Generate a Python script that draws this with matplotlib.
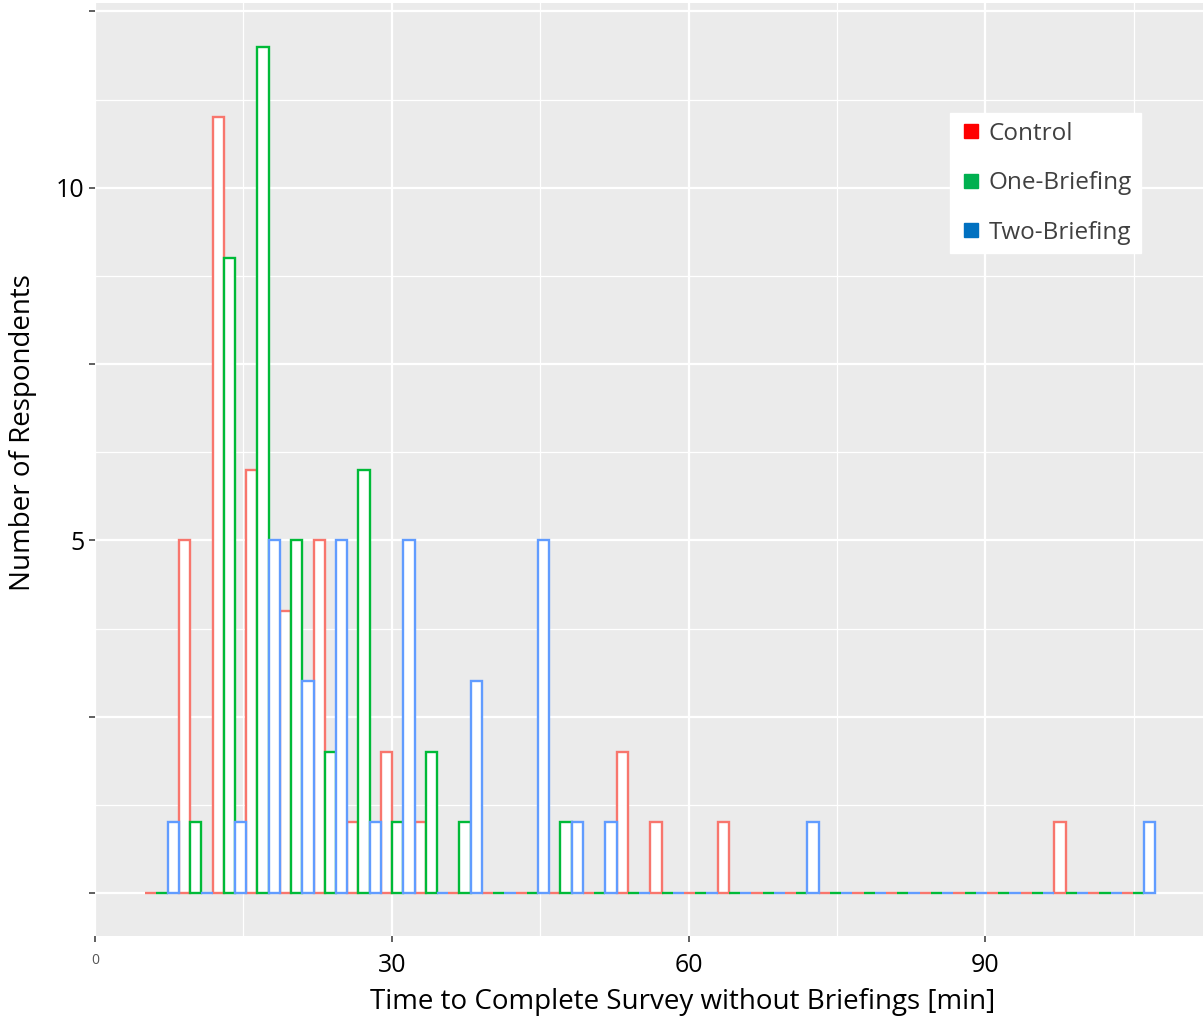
import matplotlib
matplotlib.use("Agg")
import matplotlib.pyplot as plt
from matplotlib.lines import Line2D
import numpy as np

# counts per bin (30 bins)
groups = ["Control", "One-Briefing", "Two-Briefing"]
control = [0, 5, 11, 6, 4, 5, 1, 2, 1, 0, 0, 0, 0, 0, 2, 1, 0, 1, 0, 0,
           0, 0, 0, 0, 0, 0, 0, 1, 0, 0]
one_briefing = [0, 1, 9, 12, 5, 2, 6, 1, 2, 1, 0, 0, 1, 0, 0, 0, 0, 0, 0, 0,
                0, 0, 0, 0, 0, 0, 0, 0, 0, 0]
two_briefing = [1, 0, 1, 5, 3, 5, 1, 5, 0, 3, 0, 5, 1, 1, 0, 0, 0, 0, 0, 1,
                0, 0, 0, 0, 0, 0, 0, 0, 0, 1]
bin_start = 5.07
bin_width = 3.404

line_colors = ["#F8766D", "#00BA38", "#619CFF"]
legend_colors = ["#FF0000", "#00B050", "#0070C0"]

plt.rcParams['font.family'] = ['Open Sans', 'DejaVu Sans']

fig = plt.figure(figsize=(12.03, 10.25), dpi=100)
ax = fig.add_axes([95 / 1203, 89 / 1025, 1108 / 1203, 933 / 1025])
ax.set_facecolor("#EBEBEB")

edges = bin_start + bin_width * np.arange(len(control))
sub = bin_width / 3
for k, (vals, col) in enumerate(zip([control, one_briefing, two_briefing], line_colors)):
    ax.bar(edges + k * sub, vals, width=sub, align='edge', color='white',
           edgecolor=col, linewidth=1.7, zorder=3)

ax.set_xlim(0, 112)
ax.set_ylim(-0.61, 12.62)

ax.set_xticks([0, 30, 60, 90])
ax.set_xticks([15, 45, 75, 105], minor=True)
ax.set_yticks([0, 2.5, 5, 7.5, 10, 12.5])
ax.set_yticks([1.25, 3.75, 6.25, 8.75, 11.25], minor=True)
ax.set_xticklabels(["0", "30", "60", "90"])
ax.set_yticklabels(["", "", "5", "", "10", ""])
ax.grid(which='major', color='white', linewidth=1.6, zorder=0)
ax.grid(which='minor', color='white', linewidth=0.9, zorder=0)
ax.set_axisbelow(True)
for s in ax.spines.values():
    s.set_visible(False)

ax.tick_params(axis='both', which='major', length=4, width=1.2, color='#444444',
               labelsize=18, labelcolor='black')
ax.tick_params(axis='both', which='minor', length=0)
ax.tick_params(axis='x', pad=8)
xl = ax.get_xticklabels()
xl[0].set_fontsize(10)
xl[0].set_color('#555555')

ax.set_xlabel("Time to Complete Survey without Briefings [min]", fontsize=20)
ax.set_ylabel("Number of Respondents", fontsize=20)
ax.xaxis.set_label_coords(0.53, -0.056)
ax.yaxis.set_label_coords(-0.052, 0.54)

handles = [Line2D([], [], marker='s', linestyle='none', markersize=10,
                  markerfacecolor=c, markeredgecolor=c) for c in legend_colors]
leg = fig.legend(handles, groups, loc='upper left',
                 bbox_to_anchor=(950 / 1203, 1 - 113 / 1025),
                 frameon=True, fancybox=False, fontsize=17.5, framealpha=1,
                 labelspacing=1.05, handletextpad=0.25, handlelength=1.0,
                 borderpad=0.35, borderaxespad=0)
leg.get_frame().set_facecolor('white')
leg.get_frame().set_edgecolor('white')
for t in leg.get_texts():
    t.set_color('#404040')

fig.savefig("out.png", dpi=100)
